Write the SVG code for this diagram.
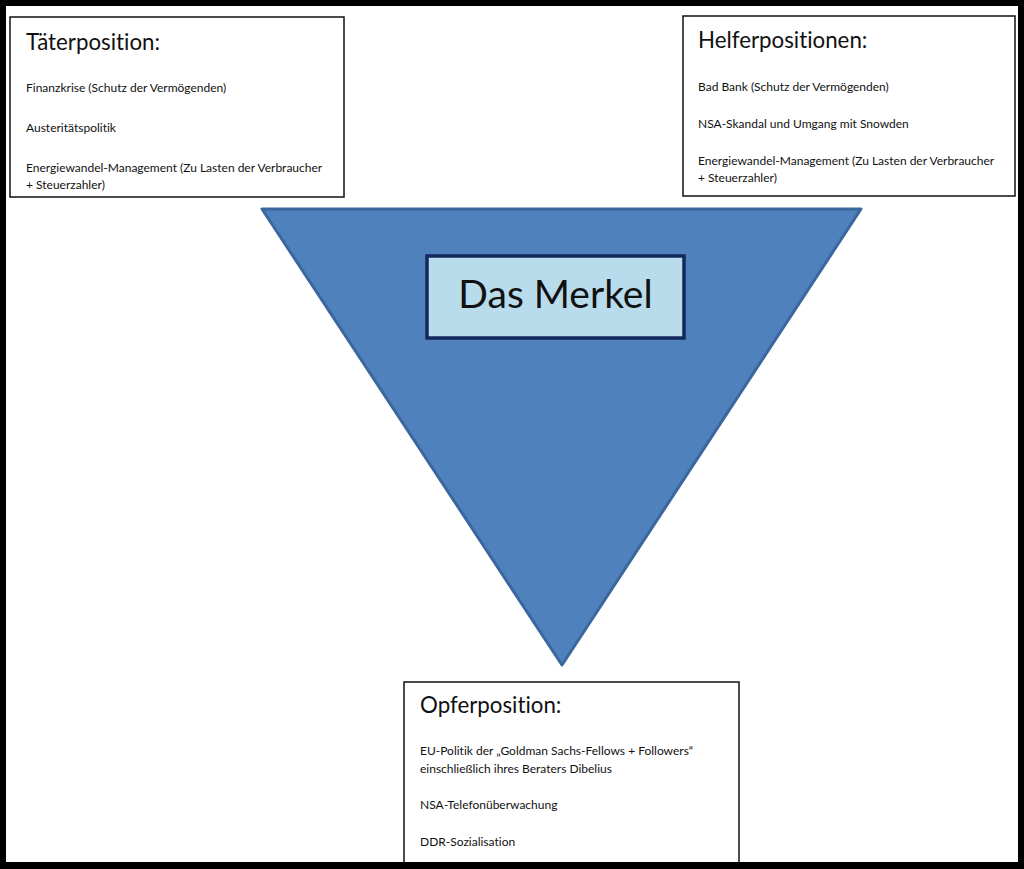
<svg xmlns="http://www.w3.org/2000/svg" width="1024" height="869" viewBox="0 0 1024 869">
<style>
text{font-variant-ligatures:none;font-feature-settings:"liga" 0,"clig" 0}
.box{fill:#ffffff;stroke:#111111;stroke-width:1.5}
.title{font-family:Lato,"Liberation Sans",sans-serif;font-size:22.3px;fill:#111111}
.item{font-family:Lato,"Liberation Sans",sans-serif;font-size:12px;fill:#111111}
.center{font-family:Lato,"Liberation Sans",sans-serif;font-size:39px;fill:#111111}
</style>
<rect x="0" y="0" width="1024" height="869" fill="#000000"/>
<rect x="6" y="6" width="1012" height="856" fill="#ffffff"/>
<g id="triangle">
<polygon points="262,209 861,209 562,665" fill="#4f81bd" stroke="#3b679e" stroke-width="3" stroke-linejoin="round"/>
</g>
<g id="das-merkel">
<rect x="427" y="256" width="257" height="82" fill="#b9dcec" stroke="#14285e" stroke-width="3.5"/>
<text class="center" x="555.5" y="308" text-anchor="middle">Das Merkel</text>
</g>
<g id="taeterposition">
<rect class="box" x="10" y="17" width="334" height="180"/>
<text class="title" x="26" y="50">Täterposition:</text>
<text class="item" x="26" y="92">Finanzkrise (Schutz der Vermögenden)</text>
<text class="item" x="26" y="132">Austeritätspolitik</text>
<text class="item" x="26" y="172">Energiewandel-Management (Zu Lasten der Verbraucher</text>
<text class="item" x="26" y="189">+ Steuerzahler)</text>
</g>
<g id="helferpositionen">
<rect class="box" x="683" y="16" width="332" height="180"/>
<text class="title" x="698" y="48">Helferpositionen:</text>
<text class="item" x="698" y="91">Bad Bank (Schutz der Vermögenden)</text>
<text class="item" x="698" y="128">NSA-Skandal und Umgang mit Snowden</text>
<text class="item" x="698" y="165">Energiewandel-Management (Zu Lasten der Verbraucher</text>
<text class="item" x="698" y="182">+ Steuerzahler)</text>
</g>
<g id="opferposition">
<rect class="box" x="404" y="682" width="335" height="182"/>
<text class="title" x="420" y="713">Opferposition:</text>
<text class="item" x="420" y="755">EU-Politik der „Goldman Sachs-Fellows + Followers“</text>
<text class="item" x="420" y="773">einschließlich ihres Beraters Dibelius</text>
<text class="item" x="420" y="809">NSA-Telefonüberwachung</text>
<text class="item" x="420" y="846">DDR-Sozialisation</text>
</g>
<g id="connectors"></g>
<rect x="0" y="862" width="1024" height="7" fill="#000000"/>
</svg>
